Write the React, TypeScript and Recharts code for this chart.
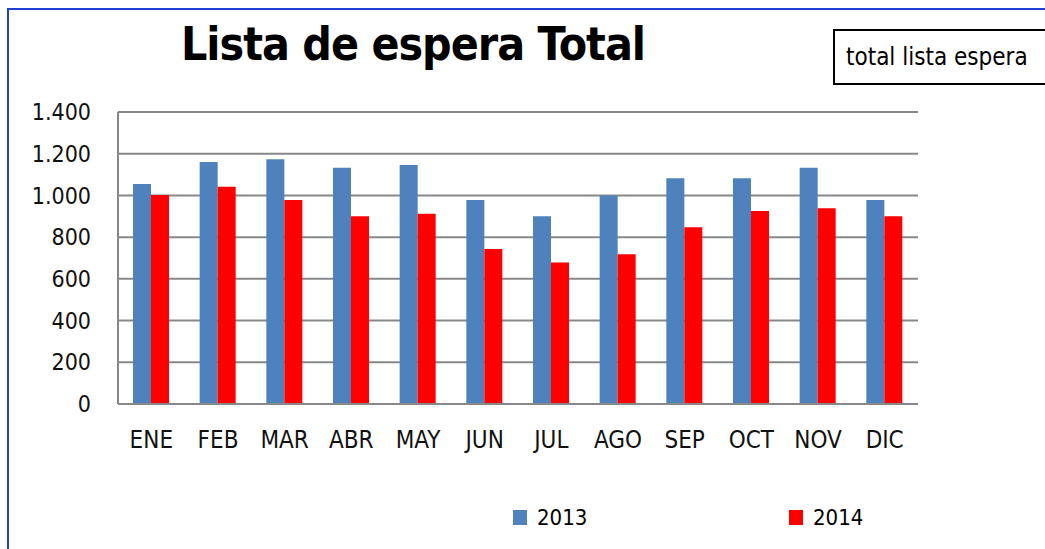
import React from 'react';
import { BarChart, Bar, XAxis, YAxis, CartesianGrid } from 'recharts';

const months = ['ENE', 'FEB', 'MAR', 'ABR', 'MAY', 'JUN', 'JUL', 'AGO', 'SEP', 'OCT', 'NOV', 'DIC'];
const values2013 = [1055, 1160, 1173, 1133, 1146, 978, 900, 1000, 1082, 1082, 1133, 978];
const values2014 = [1002, 1042, 978, 900, 912, 743, 678, 718, 847, 925, 938, 900];
const yTicks = [0, 200, 400, 600, 800, 1000, 1200, 1400];

const data = months.map((m, i) => ({ month: m, y2013: values2013[i], y2014: values2014[i] }));

const FONT = "'Liberation Sans Narrow', 'DejaVu Sans Condensed', 'Liberation Sans', sans-serif";
const BLUE = '#4F81BD';
const RED = '#FF0000';

const fmt = (v: number) => String(v).replace(/\B(?=(\d{3})+(?!\d))/g, '.');

export default function App() {
  return (
    <div style={{ position: 'absolute', left: 0, top: 0, width: 1045, height: 549, background: '#fff', overflow: 'hidden', fontFamily: FONT }}>
      {/* blue frame */}
      <div style={{ position: 'absolute', left: 7, top: 8, width: 1100, height: 600, borderLeft: '2px solid #1f3fd6', borderTop: '2px solid #1f3fd6' }} />
      <div style={{ position: 'absolute', left: 0, top: 17, width: 826, textAlign: 'center', fontSize: 46, letterSpacing: -1, fontWeight: 'bold', color: '#000', fontFamily: FONT }}>
        Lista de espera Total
      </div>
      <div style={{ position: 'absolute', left: 833, top: 29, width: 260, height: 56, border: '2px solid #000', boxSizing: 'border-box', fontSize: 24, lineHeight: '52px', paddingLeft: 11, fontFamily: FONT }}>
        total lista espera
      </div>
      <div style={{ position: 'absolute', left: 0, top: 0 }}>
        <BarChart
          width={1045}
          height={549}
          data={data}
          margin={{ top: 112, right: 127, bottom: 105, left: 48 }}
          barCategoryGap={15}
          barGap={0}
        >
          <CartesianGrid vertical={false} stroke="#888888" strokeWidth={2} />
          <XAxis
            dataKey="month"
            axisLine={{ stroke: '#888888', strokeWidth: 2 }}
            tickLine={false}
            height={40}
            tick={{ fill: '#111', fontSize: 24, fontFamily: FONT, dy: 19 }}
            interval={0}
          />
          <YAxis
            domain={[0, 1400]}
            ticks={yTicks}
            width={70}
            axisLine={{ stroke: '#888888', strokeWidth: 2 }}
            tickLine={false}
            tickFormatter={fmt}
            tick={{ fill: '#111', fontSize: 23, fontFamily: FONT, dx: -19 }}
          />
          <Bar dataKey="y2013" fill={BLUE} isAnimationActive={false} />
          <Bar dataKey="y2014" fill={RED} isAnimationActive={false} />
        </BarChart>
      </div>
      {/* legend */}
      <div style={{ position: 'absolute', left: 513, top: 505, display: 'flex', alignItems: 'center', fontSize: 22 }}>
        <span style={{ display: 'inline-block', width: 14, height: 15, background: BLUE, marginRight: 10 }} />
        <span>2013</span>
      </div>
      <div style={{ position: 'absolute', left: 789, top: 505, display: 'flex', alignItems: 'center', fontSize: 22 }}>
        <span style={{ display: 'inline-block', width: 14, height: 15, background: RED, marginRight: 10 }} />
        <span>2014</span>
      </div>
    </div>
  );
}
